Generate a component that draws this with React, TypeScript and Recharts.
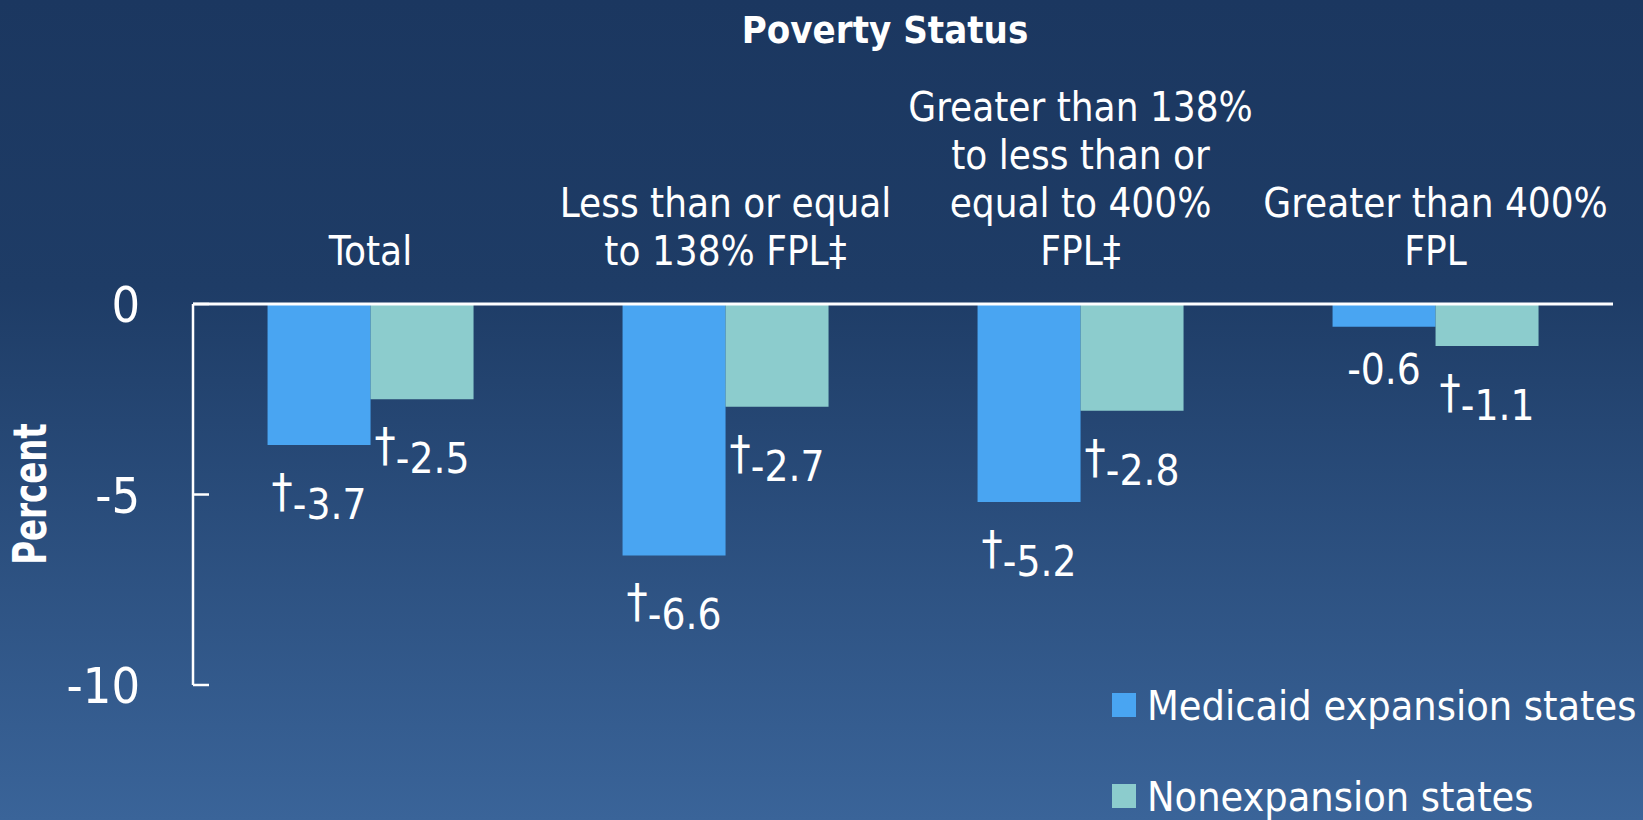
import React from 'react';
import { BarChart, Bar, XAxis, YAxis, LabelList, Legend } from 'recharts';

const categories = [
  'Total',
  'Less than or equal to 138% FPL‡',
  'Greater than 138% to less than or equal to 400% FPL‡',
  'Greater than 400% FPL',
];
const categoryLines = [
  ['Total'],
  ['Less than or equal', 'to 138% FPL‡'],
  ['Greater than 138%', 'to less than or', 'equal to 400%', 'FPL‡'],
  ['Greater than 400%', 'FPL'],
];
const medicaidValues = [-3.7, -6.6, -5.2, -0.6];
const nonexpansionValues = [-2.5, -2.7, -2.8, -1.1];
const medicaidMarks = ['†', '†', '†', ''];
const nonexpansionMarks = ['†', '†', '†', '†'];
const yTicks = [0, -5, -10];
const seriesNames = ['Medicaid expansion states', 'Nonexpansion states'];
const seriesColors = ['#49a5f2', '#8ccccd'];
const chartTitle = 'Poverty Status';
const yAxisTitle = 'Percent';

const data = categories.map((c, i) => ({
  category: c,
  medicaid: medicaidValues[i],
  nonexpansion: nonexpansionValues[i],
}));

const W = 1643;
const H = 820;
const FONT = "'DejaVu Sans Condensed', 'DejaVu Sans', Tahoma, sans-serif";

const XTick = (props: any) => {
  const { x, y, payload } = props;
  const lines = categoryLines[payload.index] ?? [String(payload.value)];
  const n = lines.length;
  return (
    <g>
      {lines.map((l, i) => (
        <text
          key={i}
          x={x}
          y={y - 39 - (n - 1 - i) * 48}
          textAnchor="middle"
          fill="#ffffff"
          fontSize={40}
          fontFamily={FONT}
        >
          {l}
        </text>
      ))}
    </g>
  );
};

const YTick = (props: any) => {
  const { x, y, payload } = props;
  return (
    <g>
      <line x1={x + 53} x2={x + 69} y1={y} y2={y} stroke="#ffffff" strokeWidth={2.5} />
      <text x={x} y={y} dy="0.36em" textAnchor="end" fill="#ffffff" fontSize={50} fontFamily={FONT}>
        {payload.value}
      </text>
    </g>
  );
};

const makeLabel = (marks: string[]) => (props: any) => {
  const { x, y, width, height, value, index } = props;
  const top = Number(y);
  const end = Math.max(top, top + Number(height));
  const cx = Number(x) + Number(width) / 2;
  const mark = marks[index];
  if (mark) {
    return (
      <text x={cx} y={end + 74} textAnchor="middle" fill="#ffffff" fontSize={42} fontFamily={FONT}>
        <tspan fontSize={47} dy={-12}>{mark}</tspan>
        <tspan dy={12}>{String(value)}</tspan>
      </text>
    );
  }
  return (
    <text x={cx} y={end + 57} textAnchor="middle" fill="#ffffff" fontSize={42} fontFamily={FONT}>
      {String(value)}
    </text>
  );
};

const renderLegend = () => (
  <svg width={531} height={140} style={{ display: 'block' }}>
    {seriesNames.map((name, i) => (
      <g key={name}>
        <rect x={0} y={13 + i * 91} width={24} height={24} fill={seriesColors[i]} />
        <text x={35} y={40 + i * 91} fill="#ffffff" fontSize={41} fontFamily={FONT}>
          {name}
        </text>
      </g>
    ))}
  </svg>
);

export default function App() {
  return (
    <div
      style={{
        position: 'absolute',
        left: 0,
        top: 0,
        width: W,
        height: H,
        overflow: 'hidden',
        background: 'linear-gradient(180deg, #1b3760 0%, #1e3c66 35%, #3a6499 100%)',
        fontFamily: FONT,
      }}
    >
      <BarChart
        width={W}
        height={H}
        data={data}
        margin={{ top: 0, right: 30, bottom: 135, left: 0 }}
        barCategoryGap="21%"
        barGap={0}
      >
        <XAxis
          dataKey="category"
          orientation="top"
          height={304}
          axisLine={{ stroke: '#ffffff', strokeWidth: 3 }}
          tickLine={false}
          tickSize={0}
          tickMargin={0}
          tick={<XTick />}
          interval={0}
        />
        <YAxis
          type="number"
          domain={[-10, 0]}
          ticks={yTicks}
          width={193}
          axisLine={{ stroke: '#ffffff', strokeWidth: 2.5 }}
          tickLine={false}
          tickSize={0}
          tickMargin={53}
          tick={<YTick />}
          interval={0}
        />
        <Legend
          layout="horizontal"
          verticalAlign="middle"
          align="center"
          content={renderLegend}
          wrapperStyle={{ left: 1112, top: 680, width: 531, height: 140 }}
        />
        <Bar dataKey="medicaid" name={seriesNames[0]} fill={seriesColors[0]} isAnimationActive={false}>
          <LabelList dataKey="medicaid" content={makeLabel(medicaidMarks)} />
        </Bar>
        <Bar dataKey="nonexpansion" name={seriesNames[1]} fill={seriesColors[1]} isAnimationActive={false}>
          <LabelList dataKey="nonexpansion" content={makeLabel(nonexpansionMarks)} />
        </Bar>
      </BarChart>
      <svg
        width={W}
        height={H}
        style={{ position: 'absolute', left: 0, top: 0, pointerEvents: 'none' }}
      >
        <text x={885} y={43} textAnchor="middle" fill="#ffffff" fontSize={38} fontWeight="bold" fontFamily={FONT}>
          {chartTitle}
        </text>
        <text
          transform="translate(46,494) rotate(-90) scale(1,1.3)"
          textAnchor="middle"
          fill="#ffffff"
          fontSize={36}
          fontWeight="bold"
          fontFamily={FONT}
        >
          {yAxisTitle}
        </text>
      </svg>
    </div>
  );
}
